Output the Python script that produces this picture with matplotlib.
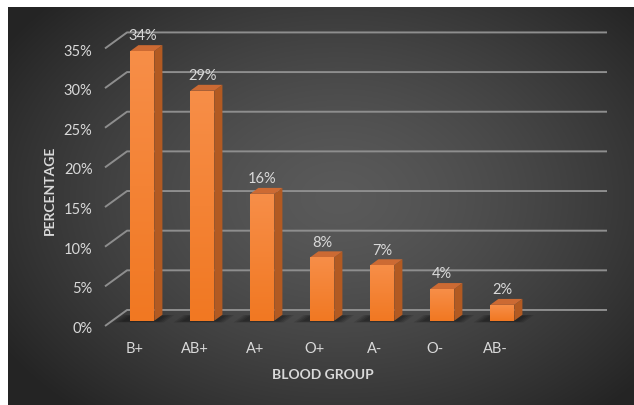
import numpy as np
import matplotlib.pyplot as plt
from matplotlib.patches import Polygon

groups = ['B+', 'AB+', 'A+', 'O+', 'A-', 'O-', 'AB-']
percent = [34, 29, 16, 8, 7, 4, 2]
ticks = [0, 5, 10, 15, 20, 25, 30, 35]

plt.rcParams['font.family'] = ['Lato', 'DejaVu Sans']
txt = '#d9d9d9'
grid_c = '#8e8e8e'

# depth of the 3d floor (data units) and the slice of it a bar takes
DX, DY = 0.367, 2.02
F0, F1 = 0.33, 0.70
HW = 0.2

fig = plt.figure(figsize=(6.34, 4.06), dpi=100)
fig.patch.set_facecolor('white')

# dark radial background
bg = fig.add_axes([8 / 634, 0, 626 / 634, 398 / 406])
h, w = 398, 626
yy, xx = np.mgrid[0:h, 0:w]
r = np.sqrt(((xx - 330) / 420.0) ** 2 + ((yy - 190) / 300.0) ** 2)
r = np.clip(r / 0.95, 0, 1) ** 1.4
c_in, c_out = np.array([90, 90, 90]), np.array([36, 36, 36])
img = (c_in[None, None, :] + (c_out - c_in)[None, None, :] * r[..., None]) / 255.0
bg.imshow(img, aspect='auto', extent=(0, 1, 0, 1))
bg.set_axis_off()

ax = fig.add_axes([105 / 634, 79 / 406, 502 / 634, 295 / 406])
ax.set_facecolor('none')
ax.set_axis_off()

# gridlines: side wall diagonal + back wall
for t in ticks:
    ax.plot([-0.5, -0.5 + DX, 7.5 + DX], [t, t + DY, t + DY], color=grid_c,
            lw=1.4, clip_on=False, zorder=1, solid_capstyle='butt')
    ax.annotate(f'{t}%', xy=(-0.5, t), xytext=(-9, -1.5), textcoords='offset points',
                ha='right', va='center', color=txt, fontsize=10.5)

# vertical colour ramp for the front faces
top_c = np.array([247, 142, 72]) / 255.0
bot_c = np.array([241, 120, 34]) / 255.0
ramp = np.linspace(0, 1, 64)[:, None, None]
face = (top_c[None, None, :] * (1 - ramp) + bot_c[None, None, :] * ramp)

ddx = (F1 - F0) * DX
ddy = (F1 - F0) * DY
for i, (g, v) in enumerate(zip(groups, percent)):
    x0 = i - HW + F0 * DX
    y0 = F0 * DY
    x1 = x0 + 2 * HW

    # soft floor shadow
    for k in range(4):
        e = 0.04 * k
        fa, fb = F0 - 0.05 - e * 0.5, F1 - 0.05 + e * 0.3
        xa, xb = i - HW - 0.12 - e, i + HW + 0.08 + e
        shp = [(xa + fa * DX, fa * DY), (xb + fa * DX, fa * DY),
               (xb + fb * DX, fb * DY), (xa + fb * DX, fb * DY)]
        ax.add_patch(Polygon(shp, closed=True, color='black', alpha=0.11,
                             lw=0, zorder=2, clip_on=False))

    side = [(x1, y0), (x1 + ddx, y0 + ddy), (x1 + ddx, y0 + v + ddy), (x1, y0 + v)]
    top = [(x0, y0 + v), (x1, y0 + v), (x1 + ddx, y0 + v + ddy), (x0 + ddx, y0 + v + ddy)]
    ax.add_patch(Polygon(side, closed=True, fc='#b25a22', ec='none', zorder=3, clip_on=False))
    ax.add_patch(Polygon(top, closed=True, fc='#cc6a33', ec='none', zorder=3, clip_on=False))
    ax.imshow(face, extent=(x0, x1, y0, y0 + v), aspect='auto', origin='upper',
              zorder=3, interpolation='bilinear')

    ax.annotate(f'{v}%', xy=(x0 + HW, y0 + v + ddy), xytext=(0, 7),
                textcoords='offset points', ha='center', va='center',
                color=txt, fontsize=10.5)
    ax.annotate(g, xy=(i, 0), xytext=(0, -16), textcoords='offset points',
                ha='center', va='center', color=txt, fontsize=10.5)

ax.set_xlim(-0.5, 7.5 + DX)
ax.set_ylim(0, 37.2)

fig.text(50 / 634, 1 - 190 / 406, 'PERCENTAGE', rotation=90, ha='center',
         va='center', color=txt, fontsize=10, fontweight='bold')
fig.text(323 / 634, 1 - 375 / 406, 'BLOOD GROUP', ha='center', va='center',
         color=txt, fontsize=10, fontweight='bold')

fig.savefig('out.png', dpi=100)
